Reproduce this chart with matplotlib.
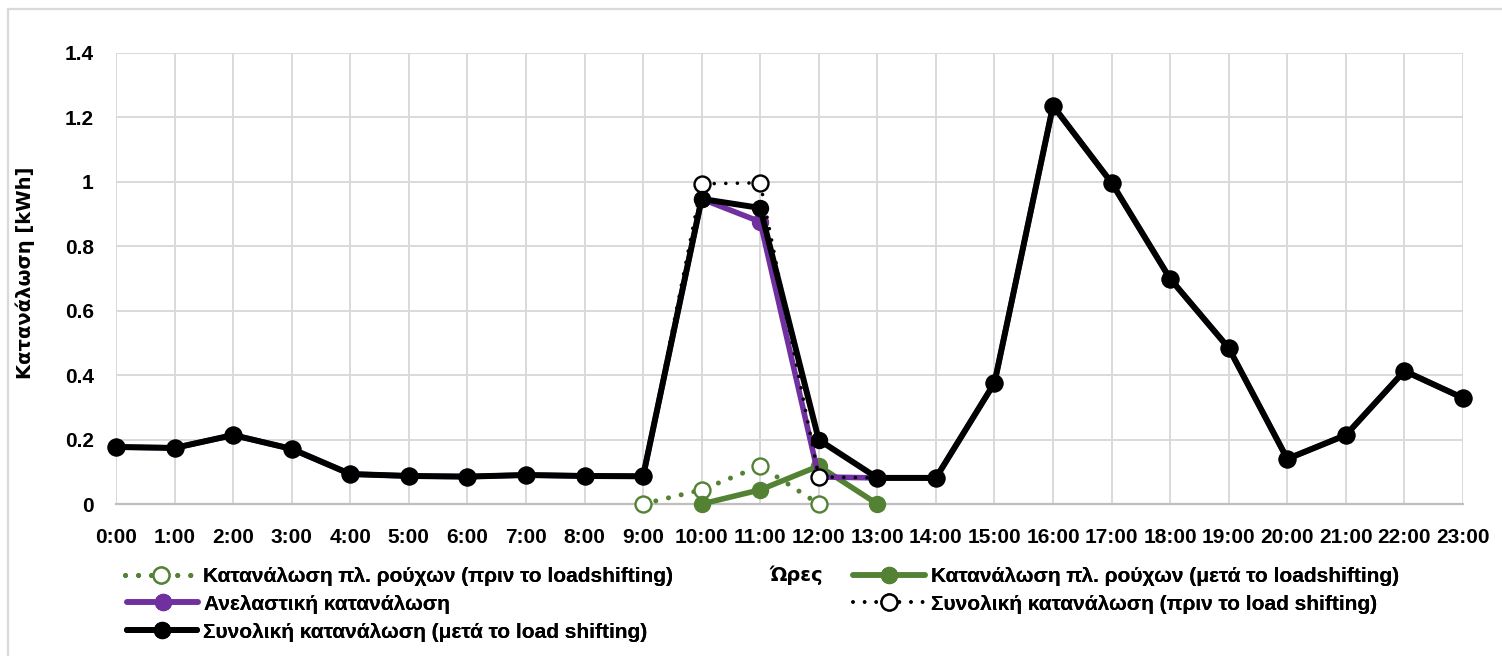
import matplotlib
matplotlib.use("Agg")
import matplotlib.pyplot as plt
import numpy as np
from matplotlib.patches import Rectangle
from matplotlib.font_manager import FontProperties

plt.rcParams['font.family'] = ['Liberation Sans', 'DejaVu Sans']
plt.rcParams['font.weight'] = 'bold'
plt.rcParams['axes.labelweight'] = 'bold'

# Ώρες της ημέρας
hours = np.arange(24)
hour_labels = [f"{h}:00" for h in hours]

nan = np.nan
# Κατανάλωση πλυντηρίου ρούχων πριν / μετά το load shifting [kWh]
washer_before = [nan] * 9 + [0.0, 0.044, 0.118, 0.0] + [nan] * 11
washer_after = [nan] * 10 + [0.0, 0.044, 0.118, 0.0] + [nan] * 10

# Ανελαστική κατανάλωση
inelastic = [0.177, 0.174, 0.214, 0.171, 0.093, 0.087, 0.085, 0.090, 0.087, 0.086,
             0.947, 0.876, 0.084, 0.081, 0.081, 0.376, 1.236, 0.997, 0.699, 0.484,
             0.140, 0.214, 0.413, 0.329]

# Συνολική κατανάλωση πριν το load shifting
total_before = [0.177, 0.174, 0.214, 0.171, 0.093, 0.087, 0.085, 0.090, 0.087, 0.086,
                0.994, 0.997, 0.084, 0.081, 0.081, 0.376, 1.236, 0.997, 0.699, 0.484,
                0.140, 0.214, 0.413, 0.329]

# Συνολική κατανάλωση μετά το load shifting
total_after = [0.177, 0.174, 0.214, 0.171, 0.093, 0.087, 0.085, 0.090, 0.087, 0.086,
               0.947, 0.919, 0.199, 0.081, 0.081, 0.376, 1.236, 0.997, 0.699, 0.484,
               0.140, 0.214, 0.413, 0.329]

labels = [
    "Κατανάλωση πλ. ρούχων (πριν το loadshifting)",
    "Κατανάλωση πλ. ρούχων (μετά το loadshifting)",
    "Ανελαστική κατανάλωση",
    "Συνολική κατανάλωση (πριν το load shifting)",
    "Συνολική κατανάλωση (μετά το load shifting)",
]

GREEN = '#548235'
PURPLE = '#7030A0'
GRID = '#d9d9d9'

fp = FontProperties(family=['Liberation Sans', 'DejaVu Sans'], weight='bold', size=15)
fp_title = FontProperties(family=['DejaVu Sans'], weight='bold', size=14)

W, H = 1502, 656
fig = plt.figure(figsize=(W / 100, H / 100), dpi=100)
ax = fig.add_axes([116 / W, 1 - 504 / H, (1463 - 116) / W, (504 - 53) / H])

# рамка всей картинки
fig.patches.append(Rectangle((8 / W, -0.02), 1.1, 1 - 9 / H + 0.02, transform=fig.transFigure,
                             fill=False, edgecolor=GRID, linewidth=1.6, zorder=0))

dot_g = (0, (0.01, 2.6))
dot_k = (0, (0.01, 3.2))

h1, = ax.plot(hours, washer_before, color=GREEN, lw=3.6, ls=dot_g, dash_capstyle='round',
              marker='o', ms=11.5, mfc='white', mec=GREEN, mew=1.7, clip_on=False, zorder=3)
h2, = ax.plot(hours, washer_after, color=GREEN, lw=4.0, solid_capstyle='round',
              marker='o', ms=11.5, mfc=GREEN, mec=GREEN, clip_on=False, zorder=4)
h3, = ax.plot(hours, inelastic, color=PURPLE, lw=4.0, solid_capstyle='round',
              marker='o', ms=11.5, mfc=PURPLE, mec=PURPLE, clip_on=False, zorder=5)
h4, = ax.plot(hours, total_before, color='black', lw=2.6, ls=dot_k, dash_capstyle='round',
              marker='o', ms=11.5, mfc='white', mec='black', mew=1.7, clip_on=False, zorder=6)
h5, = ax.plot(hours, total_after, color='black', lw=4.3, solid_capstyle='round',
              solid_joinstyle='round', marker='o', ms=11.5, mfc='black', mec='black',
              clip_on=False, zorder=7)

ax.set_xlim(0, 23)
ax.set_ylim(0, 1.4)
ax.set_xticks(hours)
ax.set_xticklabels(hour_labels, fontproperties=fp)
ax.set_yticks(np.arange(0, 1.41, 0.2))
ax.set_yticklabels(["0", "0.2", "0.4", "0.6", "0.8", "1", "1.2", "1.4"], fontproperties=fp)
ax.tick_params(length=0, pad=16)
ax.tick_params(axis='x', pad=17)
ax.grid(True, color=GRID, linewidth=1.4)
ax.set_axisbelow(True)
for s in ['top', 'right', 'left']:
    ax.spines[s].set_visible(False)
ax.spines['bottom'].set_color('#bfbfbf')
ax.spines['bottom'].set_linewidth(1.6)

ax.set_ylabel("Κατανάλωση [kWh]", fontproperties=fp_title)
ax.yaxis.set_label_coords(-0.060, 0.512)

fig.text(796 / W, 1 - 575 / H, "Ώρες", fontproperties=fp_title, ha='center', va='center')

# легенда: каждая запись отдельно, как в Excel
fs_px = 15 * 100 / 72
entries = [(h1, 125, 577, 72), (h2, 853, 577, 72), (h3, 127, 604, 71),
           (h4, 853, 604, 72), (h5, 127, 632, 70)]
for (hnd, x0, yc, hl), lab in zip(entries, labels):
    leg = fig.legend([hnd], [lab], loc='center left',
                     bbox_to_anchor=(x0 / W, 1 - yc / H), bbox_transform=fig.transFigure,
                     frameon=False, prop=fp, borderpad=0, borderaxespad=0,
                     handlelength=hl / fs_px, handletextpad=6 / fs_px, numpoints=1)
    fig.add_artist(leg)

fig.savefig("out.png", dpi=100)
